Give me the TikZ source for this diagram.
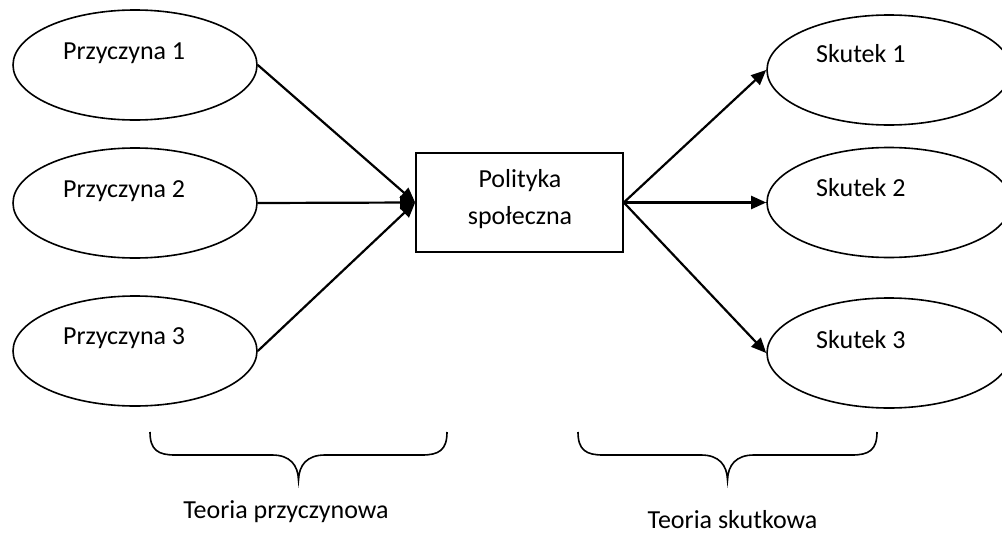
\documentclass[tikz,border=0pt]{standalone}
\usepackage{fontspec}
\setmainfont{Carlito}
\usetikzlibrary{shapes.geometric,arrows.meta}
\begin{document}
\begin{tikzpicture}[x=1pt,y=-1pt,
  oval/.style={draw,ellipse,line width=1.6pt,minimum width=244pt,minimum height=110pt,inner sep=0pt},
  lbl/.style={anchor=base west,inner sep=0pt,font=\fontsize{26}{30}\selectfont},
  clbl/.style={anchor=base,inner sep=0pt,font=\fontsize{26}{30}\selectfont},
  box/.style={draw,line width=1.6pt,minimum width=207pt,minimum height=99pt,inner sep=0pt},
  conn/.style={line width=2.2pt,-{Triangle[length=15pt,width=13pt]}},
  brace/.style={line width=1.6pt}]
\clip (0,0) rectangle (1002,533);
\fill[white] (0,0) rectangle (1002,533);
% causes
\node[oval] (p1) at (135,65) {};
\node[oval] (p2) at (135,203) {};
\node[oval] (p3) at (135,351) {};
\node[lbl] (t1) at (63,59) {Przyczyna 1};
\node[lbl] (t2) at (63,197) {Przyczyna 2};
\node[lbl] (t3) at (63,344) {Przyczyna 3};
% centre
\node[box] (pol) at (519.5,202.5) {};
\node[clbl] (polA) at (520,187) {Polityka};
\node[clbl] (polB) at (520,224) {społeczna};
% effects
\node[oval] (s1) at (889,70) {};
\node[oval] (s2) at (889,202.5) {};
\node[oval] (s3) at (889,353) {};
\node[lbl] (u1) at (816,62) {Skutek 1};
\node[lbl] (u2) at (816,196) {Skutek 2};
\node[lbl] (u3) at (816,348) {Skutek 3};
% connectors
\draw[conn] (p1.east) -- (pol.west);
\draw[conn] (p2.east) -- (pol.west);
\draw[conn] (p3.east) -- (pol.west);
\draw[conn] (pol.east) -- (s1.west);
\draw[conn] (pol.east) -- (s2.west);
\draw[conn] (pol.east) -- (s3.west);
% braces
\draw[brace] (150,432) .. controls (150,450) and (158,455) .. (175,455) -- (272,455)
  .. controls (290,455) and (298,465) .. (298.5,480)
  .. controls (299,465) and (307,455) .. (325,455) -- (422,455)
  .. controls (439,455) and (447,450) .. (447,432);
\draw[brace] (578,432) .. controls (578,450) and (586,455) .. (603,455) -- (701,455)
  .. controls (719,455) and (727,465) .. (727.5,480)
  .. controls (728,465) and (736,455) .. (754,455) -- (852,455)
  .. controls (869,455) and (877,450) .. (877,432);
\node[clbl] (th1) at (286,518) {Teoria przyczynowa};
\node[clbl] (th2) at (732.5,528) {Teoria skutkowa};
\end{tikzpicture}
\end{document}
